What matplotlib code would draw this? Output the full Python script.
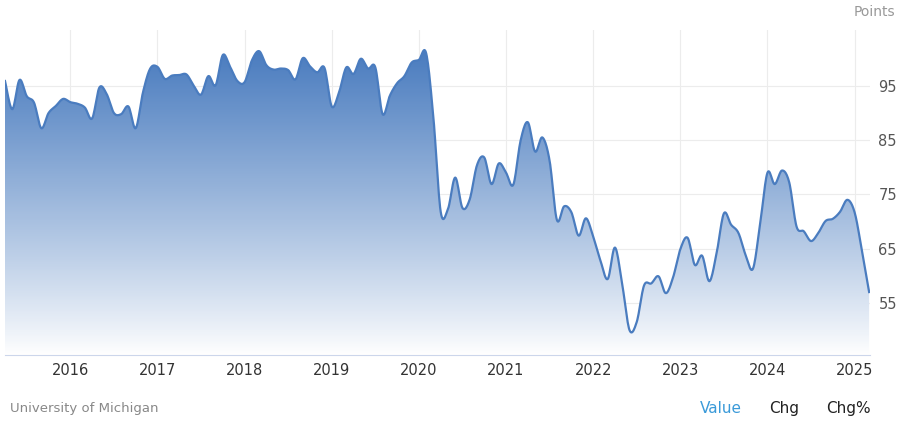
import numpy as np
import matplotlib.pyplot as plt
from matplotlib.patches import Polygon
from matplotlib.colors import LinearSegmentedColormap

# University of Michigan consumer sentiment, monthly, Apr 2015 - Mar 2025
start_year = 2015
start_month = 4
values = [
    95.9, 90.7, 96.1, 93.1, 91.9, 87.2, 90.0, 91.3, 92.6,
    92.0, 91.7, 91.0, 89.0, 94.7, 93.5, 90.0, 89.8, 91.2, 87.2, 93.8, 98.2,
    98.5, 96.3, 96.9, 97.0, 97.1, 95.0, 93.4, 96.8, 95.1, 100.7, 98.5, 95.9,
    95.7, 99.7, 101.4, 98.8, 98.0, 98.2, 97.9, 96.2, 100.1, 98.6, 97.5, 98.3,
    91.2, 93.8, 98.4, 97.2, 100.0, 98.2, 98.4, 89.8, 93.2, 95.5, 96.8, 99.3,
    99.8, 101.0, 89.1, 71.8, 72.3, 78.1, 72.5, 74.1, 80.4, 81.8, 76.9, 80.7,
    79.0, 76.8, 84.9, 88.3, 82.9, 85.5, 81.2, 70.3, 72.8, 71.7, 67.4, 70.6,
    67.2, 62.8, 59.4, 65.2, 58.4, 50.0, 51.5, 58.2, 58.6, 59.9, 56.8, 59.7,
    64.9, 67.0, 62.0, 63.7, 59.0, 64.2, 71.5, 69.4, 67.9, 63.8, 61.3, 69.7,
    79.0, 76.9, 79.4, 77.2, 69.1, 68.2, 66.4, 67.9, 70.1, 70.5, 71.8, 74.0,
    71.7, 64.7, 57.0,
]
year_ticks = list(range(2016, 2026))
y_ticks = [55, 65, 75, 85, 95]

x = start_year + (start_month - 1) / 12 + np.arange(len(values)) / 12
y = np.array(values)

# Catmull-Rom smoothing for display only
def smooth(x, y, n=12):
    px = np.concatenate([[x[0]], x, [x[-1]]])
    py = np.concatenate([[y[0]], y, [y[-1]]])
    xs, ys = [], []
    t = np.linspace(0, 1, n, endpoint=False)
    for i in range(1, len(px) - 2):
        for p, out in ((px, xs), (py, ys)):
            p0, p1, p2, p3 = p[i - 1], p[i], p[i + 1], p[i + 2]
            out.extend(0.5 * (2 * p1 + (-p0 + p2) * t
                              + (2 * p0 - 5 * p1 + 4 * p2 - p3) * t ** 2
                              + (-p0 + 3 * p1 - 3 * p2 + p3) * t ** 3))
    xs.append(x[-1]); ys.append(y[-1])
    return np.array(xs), np.array(ys)

sx, sy = smooth(x, y)

fig = plt.figure(figsize=(9, 4.23), dpi=100)
ax = fig.add_axes([5 / 900, 68 / 423, 865 / 900, 325 / 423])
ymin, ymax = 45.4, 105.3
ax.set_xlim(x[0], x[-1] + 0.01)
ax.set_ylim(ymin, ymax)

cmap = LinearSegmentedColormap.from_list("g", ["#ffffff", "#4a7cbf"])
grad = np.linspace(0, 1, 256).reshape(-1, 1) ** 0.9
im = ax.imshow(grad, cmap=cmap, aspect="auto", origin="lower",
               extent=[x[0], x[-1], ymin, 101.5], zorder=1)
poly = Polygon(np.column_stack([np.r_[sx, sx[-1], sx[0]], np.r_[sy, ymin, ymin]]),
               closed=True, transform=ax.transData, facecolor="none", edgecolor="none")
ax.add_patch(poly)
im.set_clip_path(poly)
ax.plot(sx, sy, color="#4a7cbf", lw=1.6, zorder=3)

ax.set_xticks(year_ticks)
ax.set_xticklabels([str(t) for t in year_ticks])
ax.set_yticks(y_ticks)
ax.yaxis.tick_right()
ax.grid(color="#ececec", lw=0.8, zorder=0)
ax.set_axisbelow(True)
ax.tick_params(length=0, labelsize=10.5, colors="#333333", pad=6)
ax.tick_params(axis="y", colors="#555555")
for s in ax.spines.values():
    s.set_visible(False)
ax.spines["bottom"].set_visible(True)
ax.spines["bottom"].set_color("#ccd6eb")

fig.text(895 / 900, 1 - 12 / 423, "Points", ha="right", va="center", fontsize=10, color="#999999")
fig.text(10 / 900, 1 - 408 / 423, "University of Michigan", ha="left", va="center", fontsize=9.5, color="#888888")
fig.text(721 / 900, 1 - 408 / 423, "Value", ha="center", va="center", fontsize=11, color="#3a9ad9")
fig.text(784 / 900, 1 - 408 / 423, "Chg", ha="center", va="center", fontsize=11, color="#222222")
fig.text(848 / 900, 1 - 408 / 423, "Chg%", ha="center", va="center", fontsize=11, color="#222222")

fig.savefig("out.png", dpi=100)
